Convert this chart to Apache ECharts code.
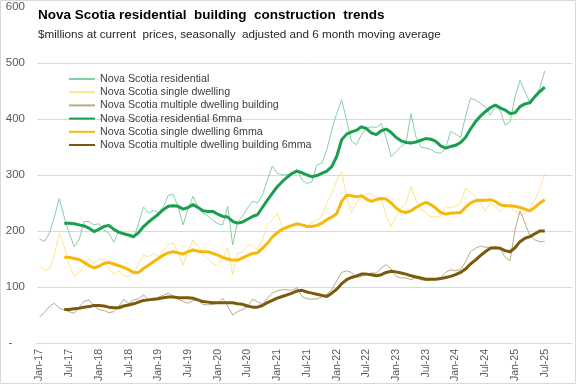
<!DOCTYPE html>
<html><head><meta charset="utf-8">
<script src="https://cdn.jsdelivr.net/npm/echarts@6/dist/echarts.min.js"></script>
<style>html,body{margin:0;padding:0;background:#fff}#c{width:577px;height:385px}</style>
</head><body><div id="c"></div>
<script>
var monthNames = ['Jan','Feb','Mar','Apr','May','Jun','Jul','Aug','Sep','Oct','Nov','Dec'];
var categories = [];
for (var y = 17; y <= 25; y++) for (var m = 0; m < 12; m++) categories.push(monthNames[m] + '-' + y);

var residential = [186,181,196,225,258,225,196,172,184,217,217,211,213,202,196,180,199,196,190,187,213,243,232,237,232,243,264,265,243,211,240,262,243,232,227,219,213,211,244,175,217,226,241,253,250,264,291,316,303,300,301,304,310,291,285,288,318,321,345,380,410,434,398,360,354,372,383,386,385,392,366,333,342,351,357,410,368,350,348,346,340,339,348,378,373,367,404,437,434,428,422,407,422,416,389,395,440,469,449,429,440,455,486];
var single = [139,129,132,157,196,172,139,119,126,137,150,142,150,148,134,123,129,120,118,125,142,157,154,160,154,166,175,179,160,139,166,184,172,158,150,142,137,150,170,122,160,162,175,175,166,184,211,220,232,208,203,208,211,211,208,214,220,226,250,267,290,306,260,233,250,260,267,266,261,258,226,208,226,241,250,279,255,238,233,226,225,227,244,241,244,250,276,270,261,251,235,250,244,235,244,244,235,229,231,241,255,276,303];
var multiple = [46,55,65,71,62,59,56,53,64,74,77,66,60,58,54,56,65,78,71,77,79,86,78,77,82,85,89,84,79,74,71,76,76,69,68,69,71,80,66,50,56,60,65,78,74,69,80,89,93,95,95,94,99,83,79,78,79,82,87,95,111,126,129,126,117,119,122,125,125,134,140,132,119,116,116,113,117,113,111,113,115,117,126,131,129,131,145,163,169,173,171,171,171,169,153,147,202,236,214,192,184,181,181];
var residential6 = [null,null,null,null,null,214,214,213,211,209,205,199,203,208,210,203,198,195,193,190,197,208,216,223,230,238,244,245,244,239,242,247,242,236,235,235,230,226,225,217,214,216,221,226,229,242,255,267,279,288,296,303,307,304,300,297,299,303,307,315,333,363,373,377,380,386,383,375,372,379,382,376,367,361,358,357,359,362,365,364,360,352,348,351,353,358,367,382,395,405,413,420,425,420,416,410,411,422,427,429,440,449,457];
var single6 = [null,null,null,null,null,153,153,151,149,144,138,134,137,142,144,141,138,135,131,126,126,133,139,145,151,157,161,163,161,159,163,166,164,163,163,160,157,153,150,148,148,152,156,160,161,169,178,189,197,203,207,210,213,211,208,208,210,214,220,225,231,253,264,263,261,263,257,253,256,258,257,250,241,235,233,236,242,247,251,247,241,233,230,232,232,233,242,250,254,255,255,256,253,247,245,245,244,242,239,236,242,250,256];
var multiple6 = [null,null,null,null,null,60,60,61,62,64,65,67,67,66,64,63,63,66,68,70,73,76,77,78,79,81,82,82,81,81,81,80,77,74,73,72,72,72,72,72,70,69,66,64,64,67,72,76,80,83,86,89,93,94,91,89,87,85,83,89,96,106,113,117,120,123,123,122,120,122,126,128,127,125,123,120,118,116,114,114,114,115,117,119,122,126,132,141,148,156,163,169,170,169,165,163,170,181,187,190,195,200,200];

var seriesNames = ['Nova Scotia residential','Nova Scotia single dwelling','Nova Scotia multiple dwelling building','Nova Scotia residential 6mma','Nova Scotia single dwelling 6mma','Nova Scotia multiple dwelling building 6mma'];
var seriesData = [residential, single, multiple, residential6, single6, multiple6];
var colors = ['#86d0a6','#ffe38f','#bcaa85','#1a9e50','#f7b80c','#7a5a0c'];
var widths = [1,1,1,3,3,3];

var FONT = "'Liberation Sans',Arial,sans-serif";

var chart = echarts.init(document.getElementById('c'), null, {renderer:'canvas'});
chart.setOption({
  animation:false,
  backgroundColor:'#fff',
  title:{
    text:'Nova Scotia residential  building  construction  trends',
    subtext:'$millions at current  prices, seasonally  adjusted and 6 month moving average',
    left:38, top:8, padding:0, itemGap:5,
    textStyle:{fontFamily:FONT, fontSize:13.5, fontWeight:'bold', color:'#000', lineHeight:15},
    subtextStyle:{fontFamily:FONT, fontSize:11.7, color:'#262626', lineHeight:14}
  },
  graphic:[{type:'rect', shape:{x:0.5,y:0.5,width:575,height:383}, style:{fill:null, stroke:'#d9d9d9', lineWidth:1}, silent:true, z:-10}],
  legend:{
    orient:'vertical', left:68, top:73, padding:0,
    itemWidth:26, itemHeight:12, itemGap:1.2,
    itemStyle:{opacity:0},
    textStyle:{fontFamily:FONT, fontSize:10.7, color:'#404040', lineHeight:12},
    data:seriesNames
  },
  grid:{left:37, right:5, top:7, bottom:42},
  xAxis:{
    type:'category', data:categories, boundaryGap:true,
    axisLine:{show:true, lineStyle:{color:'#d9d9d9'}},
    axisTick:{show:false},
    axisLabel:{interval:5, rotate:90, margin:6, fontFamily:FONT, fontSize:10.5, color:'#595959'}
  },
  yAxis:{
    type:'value', min:0, max:600, interval:100,
    axisLine:{show:false}, axisTick:{show:false},
    splitLine:{show:true, showMaxLine:false, lineStyle:{color:'#d9d9d9'}},
    axisLabel:{margin:12, fontFamily:FONT, fontSize:11.5, color:'#595959',
      formatter:function(v){return v===0?'-    ':String(v);}}
  },
  series: seriesNames.map(function(n,i){
    return {name:n, type:'line', data:seriesData[i], symbol:'none', showSymbol:false,
      connectNulls:false, z: i<3?2:3,
      lineStyle:{color:colors[i], width:widths[i]}, itemStyle:{color:colors[i]}};
  })
});
</script></body></html>
